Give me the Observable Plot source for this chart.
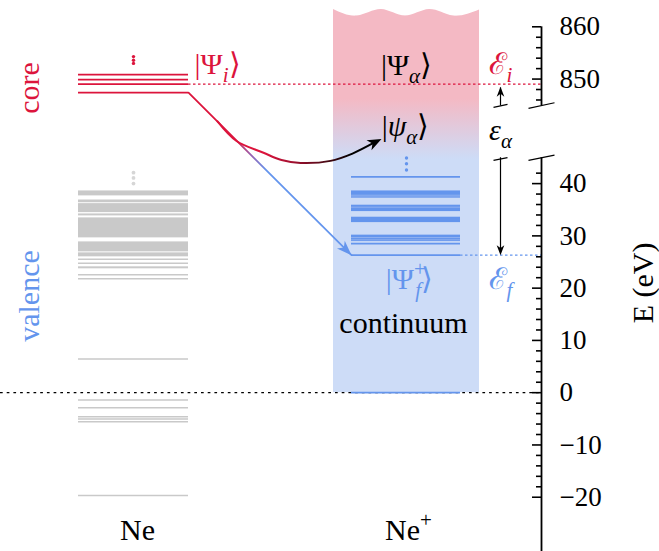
<!DOCTYPE html>
<html>
<head>
<meta charset="utf-8">
<script src="https://cdn.jsdelivr.net/npm/d3@7"></script>
<script src="https://cdn.jsdelivr.net/npm/@observablehq/plot@0.6"></script>
<style>
html, body { margin: 0; padding: 0; background: #fff; overflow: hidden; font-family: "Liberation Serif", serif; }
#chart svg { display: block; }
</style>
</head>
<body>
<div id="chart"></div>
<script>
// ---------------- data (energies in eV) ----------------
const coreLevels = [850.85, 849.9, 849.05, 847.4];
const coreDots = [854.3, 853.6, 853.0];
const E_i = 849.05;
const E_f = 26.31;
const valenceBands = [[37.65, 38.6], [34.45, 36.17], [33.82, 34.2], [29.62, 33.44], [26.94, 28.85], [25.99, 26.75], [23.7, 24.08]];
const valenceLines = [36.82, 36.56, 25.51, 24.75, 22.55, 21.79, 6.44, -1.4, -2.87, -4.6, -5.05, -5.54, -19.68];
const valenceDots = [42.1, 41.08, 40.0];
const ionBands = [[37.2, 38.6], [34.65, 35.87], [32.54, 33.57], [28.91, 30.14]];
const ionStripes = [37.78, 37.45, 35.49, 29.68, 29.24];
const ionLines = [41.28, 28.53, E_f, 0];
const ionDots = [44.9, 43.8, 42.6];
const ticksUpper = [846, 848, 850, 852, 854, 856, 858, 860];
const ticksLower = d3.range(-20, 43, 2);
const tickLabels = [860, 850, 40, 30, 20, 10, 0, -10, -20];
const columnNames = ["Ne", "Ne^+"];
const sideNames = ["core", "valence"];
const stateNames = ["|Ψ_i⟩", "|Ψ_α⟩", "|ψ_α⟩", "|Ψ^+_f⟩", "continuum"];
const energyNames = ["ℰ_i", "ε_α", "ℰ_f"];
const axisTitle = "E (eV)";

// ---------------- layout & style ----------------
const RED = "#dc143c", BLUE = "#6495ed", GRAY = "#c9c9c9", PINK = "#f4b9c4", LBLUE = "#cddcf7";
const SERIF = "Liberation Serif";
const NE = [78, 188], ION = [351, 460], BOX = [333, 479];
const AXIS_X = 541, ARROW_X = 500, LOW_TOP = 44.95, UP_BOT = 845;
// broken axis: upper segment shifted down onto the same linear scale
const yv = E => E > 400 ? E - 790 : E;
const Y_DOMAIN = [-30, 70], Y_RANGE = [549, 26.3];
const yPx = d3.scaleLinear(Y_DOMAIN, Y_RANGE);

const waveTop = [
  {x: 333, y: 73.3}, {x: 357, y: 72.05}, {x: 381, y: 73.3}, {x: 405, y: 72.05},
  {x: 429, y: 73.3}, {x: 453, y: 72.05}, {x: 479, y: 73.2}
];
const mainLine = [{x: NE[1], y: yv(coreLevels[3])}, {x: ION[0], y: E_f}];
const curvePts = [
  {x: 217, y: 51.9}, {x: 236, y: 48.15}, {x: 263, y: 45.9}, {x: 281, y: 44.5},
  {x: 300, y: 43.95}, {x: 330, y: 44.35}, {x: 352, y: 45.75}, {x: 373, y: 47.77}
];
const curveTip = {x: 381, y: 48.54};

function angleOf(from, to) {
  return Math.atan2(yPx(to.y) - yPx(from.y), to.x - from.x) * 180 / Math.PI;
}
function headSymbol(angleDeg, len, hw) {
  const a = angleDeg * Math.PI / 180, c = Math.cos(a), s = Math.sin(a);
  const pts = [[0, 0], [-len, -hw], [-0.72 * len, 0], [-len, hw]]
    .map(([px, py]) => [px * c - py * s, px * s + py * c]);
  return {draw(ctx) { ctx.moveTo(pts[0][0], pts[0][1]); for (let k = 1; k < pts.length; k++) ctx.lineTo(pts[k][0], pts[k][1]); ctx.closePath(); }};
}
function head(tip, angle, len, hw, fill) {
  return Plot.dot([tip], {x: "x", y: "y", r: 6, symbol: headSymbol(angle, len, hw), fill, stroke: "none"});
}
const hx = (a, b) => ({x1: () => a, x2: () => b});

const textStyle = {fontFamily: SERIF, fontSize: 30};

const stateLayout = [
  {x: 217, y: 62.8, fill: RED},
  {x: 406, y: 62.6, fill: "black"},
  {x: 405, y: 51.0, fill: "black"},
  {x: 409, y: 21.7, fill: BLUE},
  {x: 403, y: 13.3, fill: "black"}
];
const energyLayout = [
  {x: 500, y: 62.8, fill: RED},
  {x: 500, y: 50.2, fill: "black"},
  {x: 500, y: 21.7, fill: BLUE}
];
const states = stateNames.map((t, i) => ({text: t, ...stateLayout[i]}));
const energies = energyNames.map((t, i) => ({text: t, ...energyLayout[i]}));
const columns = columnNames.map((t, i) => ({text: t, x: [137, 408][i], y: -26.3}));
const sides = sideNames.map((t, i) => ({text: t, x: 29, y: [58.3, 18.5][i], fill: [RED, BLUE][i]}));

const svg = Plot.plot({
  width: 659, height: 551,
  x: {domain: [0, 659], range: [0, 659], axis: null},
  y: {domain: Y_DOMAIN, range: Y_RANGE, axis: null},
  marks: [
    // continuum box
    Plot.rect([{x1: BOX[0], x2: BOX[1], y1: 0, y2: 72.0}], {x1: "x1", x2: "x2", y1: "y1", y2: "y2", fill: "url(#contGrad)"}),
    Plot.areaY(waveTop, {x: "x", y1: () => 71.8, y2: "y", curve: "natural", fill: PINK}),
    // zero line
    Plot.ruleY([0], {...hx(0, AXIS_X), stroke: "black", strokeWidth: 1.3, strokeDasharray: "2.7,4"}),
    // Ne levels
    Plot.rect(valenceBands, {...hx(...NE), y1: d => d[0], y2: d => d[1], fill: GRAY}),
    Plot.ruleY(valenceLines, {...hx(...NE), stroke: GRAY, strokeWidth: 1.5}),
    Plot.ruleY(coreLevels, {...hx(...NE), y: yv, stroke: RED, strokeWidth: 1.8}),
    // Ne+ levels
    Plot.rect(ionBands, {...hx(...ION), y1: d => d[0], y2: d => d[1], fill: BLUE}),
    Plot.ruleY(ionStripes, {...hx(...ION), stroke: "#9ab8f0", strokeWidth: 0.8}),
    Plot.ruleY(ionLines, {...hx(...ION), stroke: BLUE, strokeWidth: 1.8}),
    // reference energies
    Plot.ruleY([E_i], {...hx(NE[1], AXIS_X), y: yv, stroke: RED, strokeWidth: 1.3, strokeDasharray: "2.5,2.5"}),
    Plot.ruleY([E_f], {...hx(ION[1], AXIS_X), stroke: BLUE, strokeWidth: 1.3, strokeDasharray: "2.5,2.5"}),
    // vertical ellipses
    Plot.dot(coreDots, {x: () => 133, y: yv, r: 1.7, fill: RED}),
    Plot.dot(valenceDots, {x: () => 133, y: d => d, r: 1.9, fill: "#d6d6d6"}),
    Plot.dot(ionDots, {x: () => 406, y: d => d, r: 1.7, fill: BLUE}),
    // transitions
    Plot.line(mainLine, {x: "x", y: "y", stroke: "url(#mainGrad)", strokeWidth: 1.8}),
    Plot.line(curvePts, {x: "x", y: "y", curve: "catmull-rom", stroke: "url(#curveGrad)", strokeWidth: 2}),
    head(mainLine[1], angleOf(mainLine[0], mainLine[1]), 15, 5.5, BLUE),
    head(curveTip, angleOf(curvePts[curvePts.length - 1], curveTip), 14, 5.5, "black"),
    // epsilon_alpha broken double arrow
    Plot.ruleX([{y1: 54.85, y2: yv(848.3)}, {y1: LOW_TOP, y2: E_f + 1}], {x: () => ARROW_X, y1: "y1", y2: "y2", stroke: "black", strokeWidth: 1.2}),
    Plot.link([{y1: 54.6, y2: 55.15}, {y1: 44.45, y2: 44.98}], {x1: () => ARROW_X - 7, x2: () => ARROW_X + 7, y1: "y1", y2: "y2", stroke: "black", strokeWidth: 1.2}),
    head({x: ARROW_X, y: yv(848.55)}, -90, 10, 3.8, "black"),
    head({x: ARROW_X, y: E_f}, 90, 10, 3.8, "black"),
    // axis
    Plot.ruleX([{y1: -30.6, y2: LOW_TOP}, {y1: yv(UP_BOT) - 0.06, y2: 70}], {x: () => AXIS_X, y1: "y1", y2: "y2", stroke: "black", strokeWidth: 1.8}),
    Plot.link([{y1: 44.45, y2: 45.45}, {y1: 54.4, y2: 55.47}], {x1: () => AXIS_X - 13, x2: () => AXIS_X + 13, y1: "y1", y2: "y2", stroke: "black", strokeWidth: 1.1}),
    Plot.ruleY([...ticksUpper, ...ticksLower], {y: yv, x1: d => d % 10 === 0 ? AXIS_X - 9 : AXIS_X - 5, x2: () => AXIS_X, stroke: "black", strokeWidth: 1.6}),
    Plot.text(tickLabels, {x: () => 559, y: yv, text: d => d < 0 ? "\u2212" + Math.abs(d) : String(d), textAnchor: "start", fontFamily: SERIF, fontSize: 27, fill: "black"}),
    Plot.text([axisTitle], {x: () => 643, y: () => 21.0, text: d => d, rotate: -90, ...textStyle, fill: "black"}),
    // labels
    Plot.text(sides, {x: "x", y: "y", text: "text", fill: "fill", rotate: -90, ...textStyle}),
    Plot.text(states, {x: "x", y: "y", text: "text", fill: "fill", ...textStyle}),
    Plot.text(energies, {x: "x", y: "y", text: "text", fill: "fill", ...textStyle}),
    Plot.text(columns, {x: "x", y: "y", text: "text", fill: "black", ...textStyle})
  ]
});

// gradients
const defs = d3.select(svg).insert("defs", ":first-child");
function grad(id, stops, vertical) {
  const g = defs.append("linearGradient").attr("id", id)
    .attr("x1", 0).attr("y1", 0).attr("x2", vertical ? 0 : 1).attr("y2", vertical ? 1 : 0);
  for (const [o, c] of stops) g.append("stop").attr("offset", o).attr("stop-color", c);
}
grad("contGrad", [[0, PINK], [0.22, PINK], [0.38, LBLUE], [1, LBLUE]], true);
grad("mainGrad", [[0, RED], [0.28, RED], [0.38, "#9a5fae"], [0.48, BLUE], [1, BLUE]], false);
grad("curveGrad", [[0, RED], [0.3, RED], [0.5, "#9b0f2e"], [0.7, "#4a0a15"], [0.86, "#000"], [1, "#000"]], false);

// math typesetting: _x subscript, ^x superscript
const NS = "http://www.w3.org/2000/svg";
function typeset(el) {
  const src = el.textContent;
  if (!/[_^]/.test(src)) return;
  el.textContent = "";
  let shift = 0;
  const SMALL = 0.7, SUB = 0.28, SUP = -0.42;
  const put = (ch, small, target, dx) => {
    const t = document.createElementNS(NS, "tspan");
    t.textContent = ch;
    const size = small ? SMALL : 1;
    if (small) t.setAttribute("font-size", "70%");
    if (target !== shift) t.setAttribute("dy", ((target - shift) / size).toFixed(3) + "em");
    if (dx) t.setAttribute("dx", dx);
    if (small ? /[a-zα-ω]/.test(ch) : /[α-ω]/.test(ch)) t.setAttribute("font-style", "italic");
    shift = target;
    el.appendChild(t);
  };
  for (let i = 0; i < src.length; i++) {
    const c = src[i];
    if (c === "^" && src[i + 2] === "_") { put(src[i + 1], true, SUP); put(src[i + 3], true, SUB, "-0.5em"); i += 3; }
    else if (c === "_") put(src[++i], true, SUB);
    else if (c === "^") put(src[++i], true, SUP);
    else put(c, false, 0);
  }
}
svg.querySelectorAll("text").forEach(typeset);

document.getElementById("chart").appendChild(svg);
</script>
</body>
</html>
